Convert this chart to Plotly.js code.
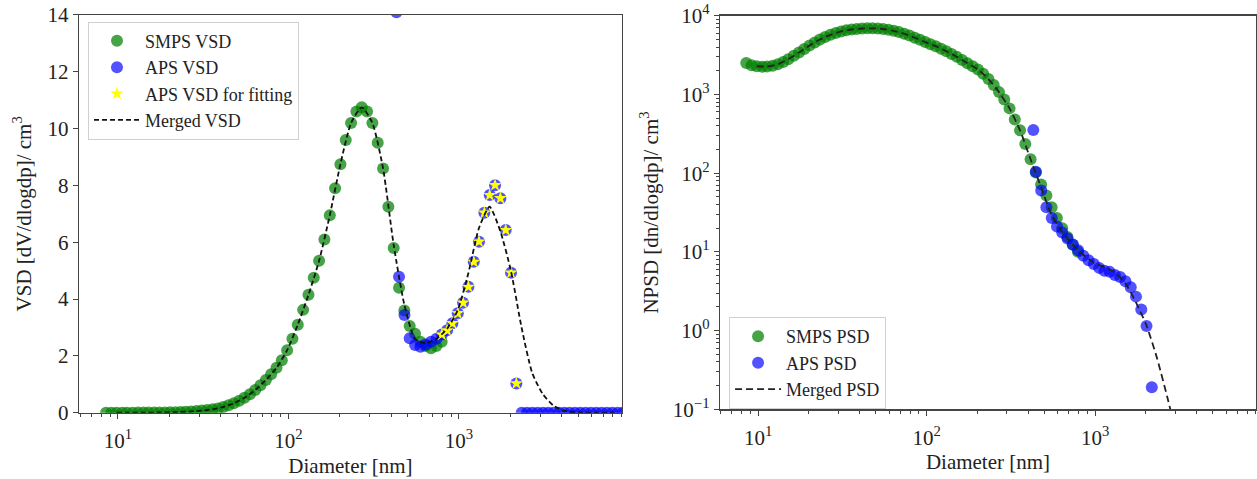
<!DOCTYPE html>
<html>
<head>
<meta charset="utf-8">
<script src="https://cdn.plot.ly/plotly-3.0.1.min.js"></script>
<style>html,body{margin:0;padding:0;background:#fff;}#chart{width:1257px;height:479px;}</style>
</head>
<body>
<div id="chart"></div>
<script>
// ---- SMPS (mobility diameter, nm) ----
const smpsDiameter = [8.51, 9.15, 9.82, 10.6, 11.3, 12.2, 13.1, 14.1, 15.1, 16.3,
  17.5, 18.8, 20.2, 21.7, 23.3, 25.0, 26.9, 28.9, 31.1, 33.4,
  35.9, 38.5, 41.4, 44.5, 47.8, 51.4, 55.2, 59.4, 63.8, 68.5,
  73.7, 79.1, 85.1, 91.4, 98.2, 105.5, 113.4, 121.9, 131.0, 140.7,
  151.2, 162.5, 174.7, 187.7, 201.7, 216.7, 232.9, 250.3, 269.0, 289.0,
  310.6, 333.8, 358.7, 385.4, 414.2, 445.1, 478.3, 514.0, 552.3, 593.5,
  637.8, 685.4, 736.5, 791.5];
const smpsVSD = [0.001, 0.001, 0.001, 0.001, 0.002, 0.002, 0.003, 0.004, 0.005, 0.006,
  0.008, 0.011, 0.015, 0.02, 0.026, 0.035, 0.045, 0.058, 0.075, 0.095,
  0.12, 0.15, 0.2, 0.26, 0.33, 0.42, 0.53, 0.65, 0.8, 0.97,
  1.15, 1.35, 1.58, 1.85, 2.2, 2.6, 3.1, 3.62, 4.15, 4.75,
  5.35, 6.1, 6.95, 7.9, 8.75, 9.6, 10.2, 10.6, 10.75, 10.6,
  10.2, 9.5, 8.6, 7.25, 5.8, 4.4, 3.6, 3.05, 2.78, 2.5,
  2.35, 2.27, 2.35, 2.5];
const smpsPSD = [2500, 2350, 2280, 2250, 2260, 2320, 2420, 2580, 2800, 3100,
  3400, 3780, 4180, 4580, 4980, 5360, 5720, 6050, 6320, 6520,
  6680, 6800, 6880, 6920, 6920, 6880, 6780, 6620, 6420, 6200,
  5900, 5600, 5250, 4950, 4620, 4350, 4100, 3800, 3530, 3260,
  3000, 2740, 2490, 2280, 2080, 1830, 1570, 1320, 1070, 860,
  665, 480, 350, 235, 150, 102, 72, 52, 37, 27,
  20, 15.5, 12.3, 10];

// ---- APS (converted diameter, nm) ----
const apsDiameter = [430, 445, 479, 514, 553, 594, 638, 686, 738, 793,
  852, 915, 984, 1057, 1136, 1221, 1311, 1409, 1514, 1628,
  1749, 1880, 2020, 2171, 2333, 2507, 2693, 2895, 3111, 3343,
  3592, 3860, 4148, 4458, 4790, 5147, 5532, 5944, 6388, 6864,
  7376, 7927, 8521, 9154];
const apsVSD = [14.1, 4.79, 3.44, 2.62, 2.38, 2.32, 2.4, 2.5, 2.6, 2.75,
  2.9, 3.15, 3.5, 3.87, 4.43, 5.31, 6.02, 7.04, 7.66, 8.01,
  7.55, 6.43, 4.93, 1.03, 0, 0, 0, 0, 0, 0,
  0, 0, 0, 0, 0, 0, 0, 0, 0, 0,
  0, 0, 0, 0];
const apsPSDDiameter = [430, 445, 479, 514, 553, 594, 638, 686, 738, 793,
  852, 915, 984, 1057, 1136, 1221, 1311, 1409, 1514, 1628,
  1749, 1880, 2020, 2171];
const apsPSD = [353, 104, 60, 37, 27, 21, 17.6, 14.8, 12.4, 10.5,
  8.9, 7.8, 7.0, 6.26, 5.77, 5.57, 5.1, 4.81, 4.22, 3.55,
  2.7, 1.85, 1.14, 0.19];

// ---- APS points used for fitting ----
const fitDiameter = [793, 852, 915, 984, 1057, 1136, 1221, 1311, 1409, 1514, 1628, 1749, 1880, 2020, 2171];
const fitVSD = [2.75, 2.9, 3.15, 3.5, 3.87, 4.43, 5.31, 6.02, 7.04, 7.66, 8.01, 7.55, 6.43, 4.93, 1.03];

// ---- Merged distribution ----
const mergedDiameter = [9.82, 11.3, 13.1, 15.1, 17.5, 20.2, 23.3, 26.9, 31.1, 35.9,
  41.4, 47.8, 55.2, 63.8, 73.7, 85.1, 98.2, 113.4, 131.0, 151.2,
  174.7, 201.7, 232.9, 269.0, 310.6, 358.7, 414.2, 478.3, 552.3, 637.8,
  736.5, 850.5, 982, 1134, 1310, 1512, 1746, 2016, 2329, 2689,
  3105, 3585, 4140, 4781, 5521, 6375, 7362, 8500];
const mergedVSD = [0.001, 0.002, 0.003, 0.005, 0.008, 0.015, 0.026, 0.045, 0.075, 0.12,
  0.2, 0.33, 0.53, 0.8, 1.15, 1.58, 2.2, 3.1, 4.15, 5.35,
  6.95, 8.75, 10.2, 10.75, 10.2, 8.6, 5.9, 3.8, 2.6, 2.45,
  2.6, 2.95, 3.6, 4.9, 6.5, 7.25, 6.4, 5.0, 3.0, 1.4,
  0.65, 0.25, 0.07, 0.015, 0.003, 0, 0, 0];
const mergedPSDDiameter = mergedDiameter.slice(0, 41);
const mergedPSD = [2280, 2260, 2420, 2800, 3400, 4180, 4980, 5720, 6320, 6680,
  6880, 6920, 6780, 6420, 5900, 5250, 4620, 4100, 3530, 3000,
  2490, 2080, 1570, 1070, 665, 350, 150, 66, 29.5, 18,
  12.4, 9.2, 7.3, 6.4, 5.5, 4.0, 2.3, 1.17, 0.45, 0.14,
  0.04];

// ---- Tick labels ----
const xTickVals = [10, 100, 1000];
const xTickText = ['10<sup>1</sup>', '10<sup>2</sup>', '10<sup>3</sup>'];
const yLogTickVals = [0.1, 1, 10, 100, 1000, 10000];
const yLogTickText = ['10<sup>\u22121</sup>', '10<sup>0</sup>', '10<sup>1</sup>', '10<sup>2</sup>', '10<sup>3</sup>', '10<sup>4</sup>'];

function minorLog(decades) {
  const out = [];
  decades.forEach(d => { for (let k = 2; k <= 9; k++) out.push(k * d); });
  return out;
}
const xMinor = minorLog([1, 10, 100, 1000]);
const yMinor = minorLog([0.1, 1, 10, 100, 1000]);

const SERIF = '"Liberation Serif", "Times New Roman", Times, serif';
const GREEN = 'rgba(0,128,0,0.72)';
const BLUE = 'rgba(0,0,255,0.68)';

const traces = [
  {x: smpsDiameter, y: smpsVSD, type: 'scatter', mode: 'markers', name: 'SMPS VSD',
   marker: {color: GREEN, size: 12, line: {width: 0}}, xaxis: 'x', yaxis: 'y', legend: 'legend'},
  {x: apsDiameter, y: apsVSD, type: 'scatter', mode: 'markers', name: 'APS VSD',
   marker: {color: BLUE, size: 12, line: {width: 0}}, xaxis: 'x', yaxis: 'y', legend: 'legend'},
  {x: fitDiameter, y: fitVSD, type: 'scatter', mode: 'markers', name: 'APS VSD for fitting',
   marker: {color: '#ffff00', size: 10, symbol: 'star', line: {width: 0}}, xaxis: 'x', yaxis: 'y', legend: 'legend'},
  {x: mergedDiameter, y: mergedVSD, type: 'scatter', mode: 'lines', name: 'Merged VSD',
   line: {color: '#111', width: 1.8, dash: '5px,3px', shape: 'spline', smoothing: 0.6}, xaxis: 'x', yaxis: 'y', legend: 'legend'},

  {x: smpsDiameter, y: smpsPSD, type: 'scatter', mode: 'markers', name: 'SMPS PSD',
   marker: {color: GREEN, size: 12, line: {width: 0}}, xaxis: 'x2', yaxis: 'y2', legend: 'legend2'},
  {x: apsPSDDiameter, y: apsPSD, type: 'scatter', mode: 'markers', name: 'APS PSD',
   marker: {color: BLUE, size: 12, line: {width: 0}}, xaxis: 'x2', yaxis: 'y2', legend: 'legend2'},
  {x: mergedPSDDiameter, y: mergedPSD, type: 'scatter', mode: 'lines', name: 'Merged PSD',
   line: {color: '#222', width: 1.8, dash: '7px,4px', shape: 'spline', smoothing: 0.6}, xaxis: 'x2', yaxis: 'y2', legend: 'legend2'}
];

const tickFont = {family: SERIF, size: 21, color: '#222'};
const titleFont = {family: SERIF, size: 21, color: '#222'};
const axisCommon = {
  showline: true, mirror: true, linecolor: '#444', linewidth: 1.3,
  showgrid: false, zeroline: false, ticks: 'outside', ticklen: 5, tickwidth: 1, tickcolor: '#444',
  tickfont: tickFont
};

const layout = {
  width: 1257, height: 479,
  margin: {l: 0, r: 0, t: 0, b: 0},
  paper_bgcolor: '#fff', plot_bgcolor: '#fff',
  font: {family: SERIF, color: '#222'},
  showlegend: true,
  xaxis: Object.assign({}, axisCommon, {
    type: 'log', range: [0.771, 3.956], domain: [0.0628, 0.4948], anchor: 'y',
    tickmode: 'array', tickvals: xTickVals, ticktext: xTickText, ticklabelstandoff: 4,
    minor: {ticks: 'outside', ticklen: 3, tickcolor: '#444', tickmode: 'array', tickvals: xMinor},
    title: {text: 'Diameter [nm]', font: titleFont, standoff: 6}
  }),
  yaxis: Object.assign({}, axisCommon, {
    range: [0, 14], domain: [0.1384, 0.9687], anchor: 'x', dtick: 2, tick0: 0,
    title: {text: 'VSD [dV/dlogdp]/ cm<sup>3</sup>', font: titleFont, standoff: 10}
  }),
  xaxis2: Object.assign({}, axisCommon, {
    type: 'log', range: [0.774, 3.955], domain: [0.5728, 0.9992], anchor: 'y2',
    tickmode: 'array', tickvals: xTickVals, ticktext: xTickText, ticklabelstandoff: 4,
    minor: {ticks: 'outside', ticklen: 3, tickcolor: '#444', tickmode: 'array', tickvals: xMinor},
    title: {text: 'Diameter [nm]', font: titleFont, standoff: 4}
  }),
  yaxis2: Object.assign({}, axisCommon, {
    type: 'log', range: [-1, 4], domain: [0.1455, 0.9672], anchor: 'x2',
    tickmode: 'array', tickvals: yLogTickVals, ticktext: yLogTickText,
    minor: {ticks: 'outside', ticklen: 3, tickcolor: '#444', tickmode: 'array', tickvals: yMinor},
    title: {text: 'NPSD [dn/dlogdp]/ cm<sup>3</sup>', font: titleFont, standoff: 8}
  }),
  legend: {x: 0.070, y: 0.955, xanchor: 'left', yanchor: 'top',
    bgcolor: 'rgba(255,255,255,0.85)', bordercolor: '#d0d0d0', borderwidth: 1,
    font: {family: SERIF, size: 18, color: '#222'}, itemwidth: 46},
  legend2: {x: 0.580, y: 0.338, xanchor: 'left', yanchor: 'top',
    bgcolor: 'rgba(255,255,255,0.85)', bordercolor: '#d0d0d0', borderwidth: 1,
    font: {family: SERIF, size: 18, color: '#222'}, itemwidth: 46}
};

Plotly.newPlot('chart', traces, layout, {staticPlot: true, displayModeBar: false});
</script>
</body>
</html>
